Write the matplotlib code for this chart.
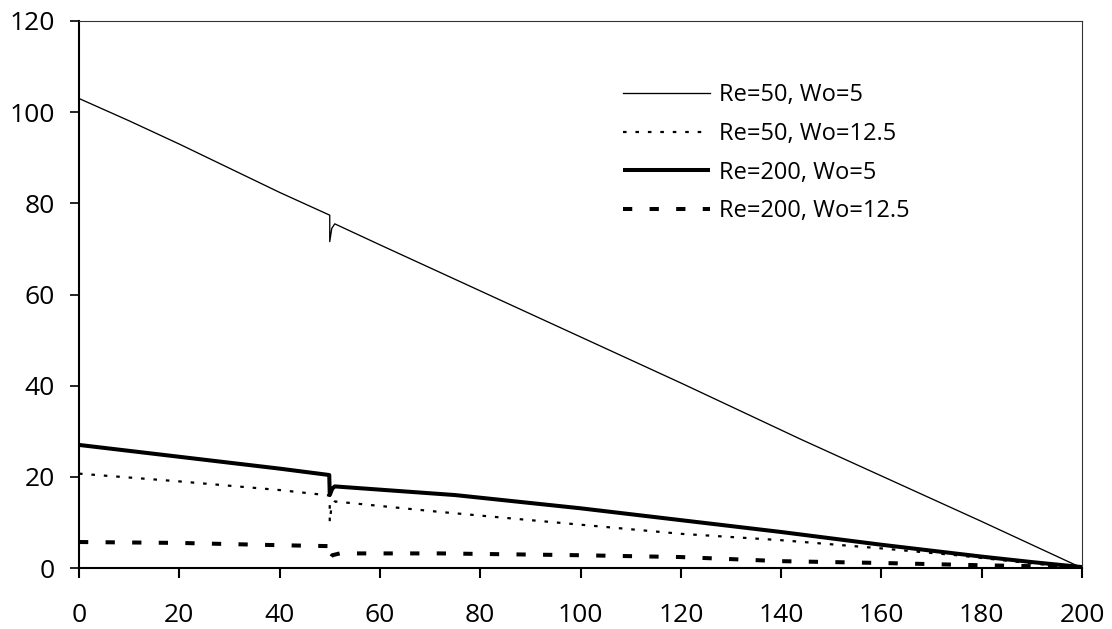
import numpy as np
import matplotlib.pyplot as plt

plt.rcParams['font.family'] = ['Open Sans', 'DejaVu Sans']

# Re=50, Wo=5
x1 = [0, 10, 20, 30, 40, 50, 50, 50.4, 51, 60, 80, 100, 120, 144, 160, 180, 200]
y1 = [103, 98.1, 93.0, 87.7, 82.4, 77.4, 71.6, 74.5, 75.5, 70.9, 60.8, 50.7, 40.6, 28.2, 20.2, 10.2, 0.0]

# Re=50, Wo=12.5
x2 = [0, 20, 40, 50, 50, 50.3, 51, 72, 100, 120, 140, 160, 175, 190, 195]
y2 = [20.7, 19.0, 17.1, 15.9, 10.1, 13.0, 14.6, 12.3, 9.5, 7.5, 6.1, 4.3, 2.8, 1.0, 0.5]

# Re=200, Wo=5
x3 = [0, 20, 40, 49.9, 50, 50.5, 51, 75, 100, 120, 140, 160, 180, 190, 200]
y3 = [27.0, 24.4, 21.8, 20.4, 16.0, 17.4, 17.9, 16.0, 13.1, 10.5, 7.9, 5.1, 2.5, 1.3, 0.2]

# Re=200, Wo=12.5
x4 = [0, 20, 40, 49.9, 50, 50.5, 52, 72, 100, 120, 140, 160, 180, 200]
y4 = [5.7, 5.5, 5.0, 4.8, 2.0, 2.8, 3.2, 3.2, 2.8, 2.4, 1.5, 1.1, 0.6, 0.2]

labels = ['Re=50, Wo=5', 'Re=50, Wo=12.5', 'Re=200, Wo=5', 'Re=200, Wo=12.5']

fig = plt.figure(figsize=(11.12, 6.29), dpi=100)
ax = fig.add_axes([79 / 1112, 61 / 629, 1003 / 1112, 547 / 629])

ax.plot(x1, y1, color='black', lw=0.95, label=labels[0])
ax.plot(x2, y2, color='black', lw=1.6, dashes=(1.6, 4.0), label=labels[1])
ax.plot(x3, y3, color='black', lw=2.9, solid_capstyle='butt', label=labels[2])
ax.plot(x4, y4, color='black', lw=2.9, dashes=(2.3, 4.3), label=labels[3])

ax.set_xlim(0, 200)
ax.set_ylim(0, 120)
ax.set_xticks(np.arange(0, 201, 20))
ax.set_yticks(np.arange(0, 121, 20))

for s in ['left', 'bottom']:
    ax.spines[s].set_linewidth(1.5)
for s in ['top', 'right']:
    ax.spines[s].set_linewidth(0.8)
    ax.spines[s].set_color('#333333')

ax.tick_params(axis='y', direction='out', length=6.5, width=1.2, pad=11, labelsize=19)
ax.tick_params(axis='x', direction='out', length=7, width=1.5, pad=18, labelsize=19)

leg = ax.legend(loc='upper left', bbox_to_anchor=(0.542, 0.886), frameon=False,
                fontsize=17, handlelength=3.7, handletextpad=0.4,
                labelspacing=0.62, borderpad=0, borderaxespad=0)

fig.savefig('out.png', dpi=100)
